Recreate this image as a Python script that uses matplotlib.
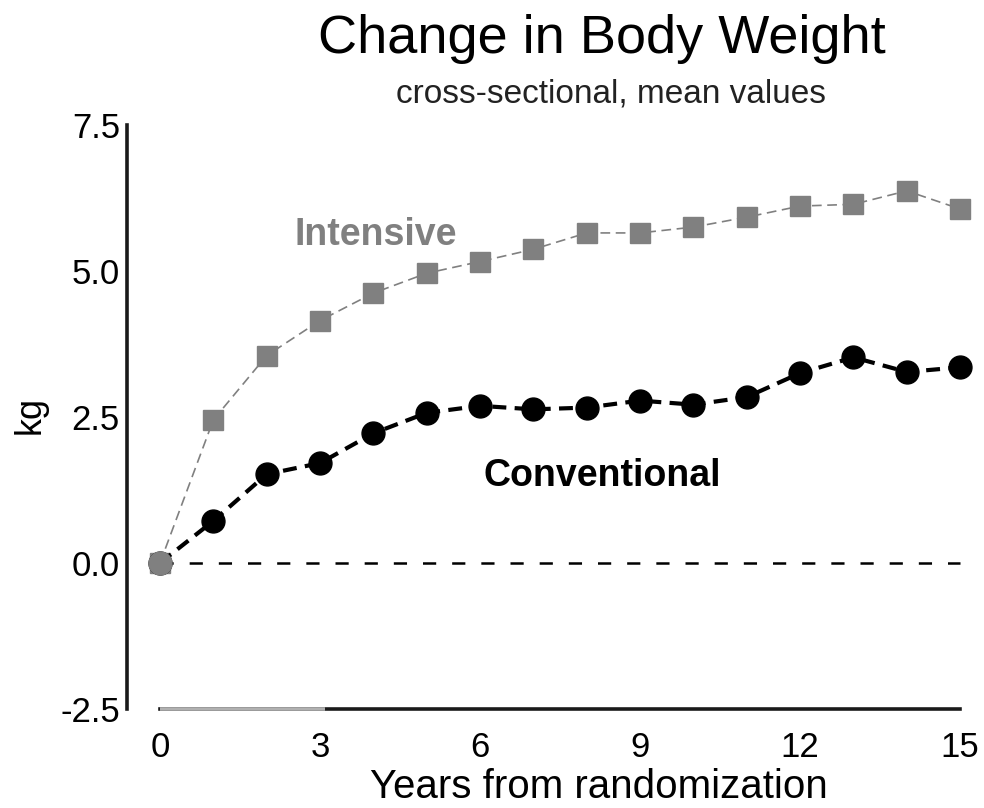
import matplotlib
matplotlib.use("Agg")
import matplotlib.pyplot as plt

plt.rcParams['font.family'] = ['Liberation Sans', 'DejaVu Sans']
plt.rcParams['lines.scale_dashes'] = False

# Mean change in body weight (kg) by year since randomization
years = list(range(16))
intensive = [0.0, 2.45, 3.55, 4.15, 4.62, 4.96, 5.16, 5.37, 5.65, 5.65,
             5.75, 5.92, 6.11, 6.14, 6.37, 6.06]
conventional = [0.0, 0.72, 1.52, 1.71, 2.22, 2.57, 2.69, 2.63, 2.66, 2.78,
                2.71, 2.84, 3.25, 3.52, 3.27, 3.35]
x_ticks = [0, 3, 6, 9, 12, 15]
y_ticks = [-2.5, 0.0, 2.5, 5.0, 7.5]
y_tick_labels = ["-2.5", "0.0", "2.5", "5.0", "7.5"]

GRAY = "#808080"
DARK = "#1a1a1a"

fig = plt.figure(figsize=(9.84, 8.08), dpi=100)
ax = fig.add_axes([0.129, 0.1225, 0.863, 0.7302])
ax.set_xlim(-0.62, 15.3)
ax.set_ylim(-2.5, 7.6)

# reference line at zero
ax.plot([years[0], years[-1]], [0, 0], color="black", lw=1.8,
        linestyle=(0, (9.5, 11.5)), zorder=1)

ax.plot(years, intensive, color=GRAY, lw=1.2, linestyle=(0, (7, 4)),
        marker="s", markersize=14.5, markerfacecolor=GRAY,
        markeredgecolor=GRAY, zorder=2, clip_on=False)
ax.plot(years, conventional, color="black", lw=3.0, linestyle=(0, (10, 6)),
        marker="o", markersize=16.5, markerfacecolor="black",
        markeredgecolor="black", zorder=3, clip_on=False)
ax.plot([years[0]], [intensive[0]], marker="o", markersize=16.5,
        color=GRAY, zorder=4, clip_on=False)

ax.text(4.05, 5.62, "Intensive", color=GRAY, fontsize=27,
        fontweight="bold", ha="center", va="center")
ax.text(8.3, 1.49, "Conventional", color="black", fontsize=27,
        fontweight="bold", ha="center", va="center")

# trimmed spines
for side in ("top", "right"):
    ax.spines[side].set_visible(False)
ax.spines["left"].set_bounds(-2.5, 7.5)
ax.spines["bottom"].set_bounds(0, 15)
for side in ("left", "bottom"):
    ax.spines[side].set_linewidth(2.6)
    ax.spines[side].set_color(DARK)
ax.plot([0, 3.1], [-2.5, -2.5], color="#b0b0b0", lw=2.6,
        solid_capstyle="butt", zorder=5, clip_on=False)

ax.set_xticks(x_ticks)
ax.set_yticks(y_ticks)
ax.set_yticklabels(y_tick_labels)
ax.tick_params(axis="both", length=0, labelsize=25, colors="black")
ax.tick_params(axis="x", pad=16)
ax.tick_params(axis="y", pad=5)

fig.text(0.612, 0.952, "Change in Body Weight", fontsize=39,
         ha="center", va="center")
fig.text(0.621, 0.884, "cross-sectional, mean values", fontsize=24,
         ha="center", va="center", color="#222222")
fig.text(0.609, 0.026, "Years from randomization", fontsize=29,
         ha="center", va="center")
fig.text(0.031, 0.486, "kg", fontsize=26, rotation=90,
         ha="center", va="center")

fig.savefig("out.png", dpi=100)
